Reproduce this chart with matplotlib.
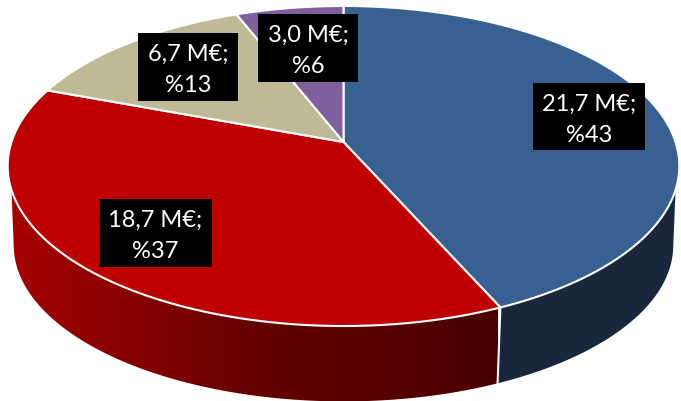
import numpy as np
import matplotlib
matplotlib.use('Agg')
import matplotlib.pyplot as plt
from matplotlib.colors import LinearSegmentedColormap
from matplotlib.patches import Polygon, Rectangle

# M euro, clockwise from 12 o'clock
values = [21.7, 18.7, 6.7, 3.0]
top_colors = ['#386192', '#BE0000', '#BFBA95', '#7F5F9E']
label_boxes = [(533, 84, 112, 67), (99, 200, 113, 68), (138, 34, 100, 68), (258, 15, 100, 68)]

K = 0.15
CX = 343.5


def project(ang, scale_x, scale_y, y0):
    # tilted disc with a bit of perspective, ang in radians clockwise from back
    u = np.sin(ang)
    v = np.cos(ang)
    w = 1 + K * v
    return CX + scale_x * u / w, y0 - scale_y * v / w


def top(ang):
    return project(ang, 332, 156.4, 143)


def bottom(ang):
    return project(ang, 326, 152.5, 223)


def wall(a0, a1, b0, b1):
    # side wall between an arc of the top face and an arc of the bottom face
    ta = np.linspace(a0, a1, 120)
    tb = np.linspace(b1, b0, 120)
    x0, y0 = top(ta)
    x1, y1 = bottom(tb)
    return np.column_stack([np.r_[x0, x1], np.r_[y0, y1]])


fig = plt.figure(figsize=(6.81, 4.02), dpi=100)
ax = fig.add_axes([0, 0, 1, 1])
ax.set_xlim(0, 681)
ax.set_ylim(402, 0)
ax.axis('off')

edges = np.r_[0, np.cumsum(values)] / sum(values) * 2 * np.pi

# side walls, only blue and red can be seen from the front
split = edges[1]
blue_wall = Polygon(wall(np.radians(107), split, np.radians(100), split),
                    fc='#18273C', ec='none', zorder=1)
ax.add_patch(blue_wall)

red_wall = Polygon(wall(split, np.radians(253), split, np.radians(260)),
                   fc='none', ec='none', zorder=1)
ax.add_patch(red_wall)
red_cmap = LinearSegmentedColormap.from_list('red_side', ['#4A0000', '#650000', '#A80000'])
grad = np.linspace(0, 1, 256)[::-1].reshape(1, -1)
im = ax.imshow(grad, cmap=red_cmap, extent=(10, 498, 402, 170), aspect='auto', zorder=1)
im.set_clip_path(red_wall)
ax.set_xlim(0, 681)
ax.set_ylim(402, 0)

# white seam between the two walls
sx0, sy0 = top(split)
sx1, sy1 = bottom(split)
ax.plot([sx0, sx1], [sy0, sy1], color='white', lw=1.5, zorder=2)

# top face
apex = (CX, 143)
for a0, a1, col in zip(edges[:-1], edges[1:], top_colors):
    ta = np.linspace(a0, a1, 200)
    xs, ys = top(ta)
    pts = np.column_stack([np.r_[apex[0], xs], np.r_[apex[1], ys]])
    ax.add_patch(Polygon(pts, closed=True, fc=col, ec='white', lw=1.5, joinstyle='round', zorder=3))

# data labels
for val, box in zip(values, label_boxes):
    x, y, w, h = box
    ax.add_patch(Rectangle((x, y), w, h, fc='black', ec='none', zorder=4))
    txt = '%s M€;\n%%%d' % (('%.1f' % val).replace('.', ','), round(val / sum(values) * 100))
    ax.text(x + w / 2, y + h / 2 + 2, txt, color='white', ha='center', va='center',
            family='Lato', fontsize=17, linespacing=1.6, zorder=5)

fig.savefig('out.png', dpi=100)
